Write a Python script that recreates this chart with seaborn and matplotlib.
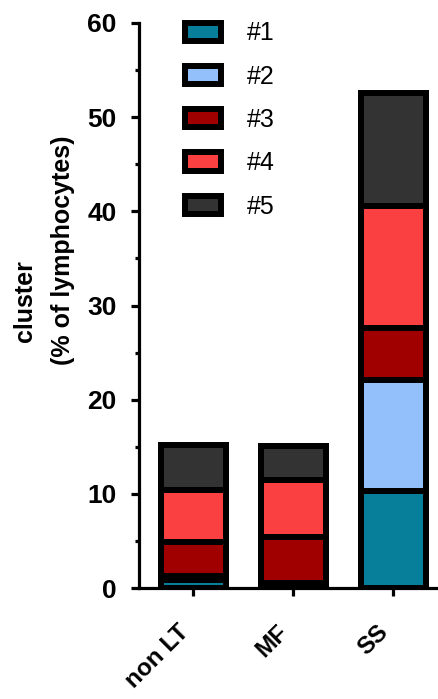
import matplotlib
matplotlib.use("Agg")
import matplotlib.pyplot as plt
from matplotlib.patches import Patch
from matplotlib.ticker import MultipleLocator
from matplotlib.transforms import ScaledTranslation
import numpy as np
import pandas as pd
import seaborn as sns

groups = ["non LT", "MF", "SS"]
cluster_names = ["#1", "#2", "#3", "#4", "#5"]
c1 = [0.9, 0.2, 10.3]
c2 = [0.4, 0.3, 11.8]
c3 = [3.6, 4.9, 5.5]
c4 = [5.5, 6.1, 13.0]
c5 = [4.8, 3.6, 12.0]
colors = ["#077F9A", "#93C0FA", "#A00000", "#FA4040", "#333333"]

sns.set_style("ticks")
plt.rcParams["font.family"] = ["Liberation Sans", "DejaVu Sans"]
plt.rcParams.update({
    "axes.edgecolor": "black",
    "text.color": "black",
    "axes.labelcolor": "black",
    "xtick.color": "black",
    "ytick.color": "black",
})

fig = plt.figure(figsize=(4.38, 6.99), dpi=100)
ax = fig.add_axes([139 / 438, 111 / 699, 299 / 438, 565 / 699])

series = np.array([c1, c2, c3, c4, c5])
cum = np.cumsum(series, axis=0)
edge_lw = 4.3

# stacked bars: draw the tallest cumulative layer first, smaller on top
for i in range(len(cluster_names) - 1, -1, -1):
    df = pd.DataFrame({"group": groups, "value": cum[i]})
    sns.barplot(data=df, x="group", y="value", order=groups, color=colors[i],
                saturation=1, edgecolor="black", linewidth=edge_lw,
                width=0.65, errorbar=None, ax=ax, zorder=3 + (5 - i))

ax.set_xlim(-0.54, 2.45)
ax.set_ylim(0, 60)
ax.yaxis.set_major_locator(MultipleLocator(10))
ax.yaxis.set_minor_locator(MultipleLocator(5))

for side in ["top", "right"]:
    ax.spines[side].set_visible(False)
for side in ["left", "bottom"]:
    ax.spines[side].set_linewidth(2.3)
ax.spines["bottom"].set_zorder(20)

ax.tick_params(axis="both", which="major", length=6, width=2.3, labelsize=19)
ax.tick_params(axis="y", which="minor", length=3, width=2.3)
ax.tick_params(axis="y", pad=10)
for lbl in ax.get_yticklabels():
    lbl.set_fontweight("bold")
ax.set_xticks(range(len(groups)))
ax.set_xticklabels(groups, rotation=45, ha="right", va="center",
                   rotation_mode="anchor", fontsize=17.5, fontweight="bold")
ax.tick_params(axis="x", pad=23)
shift = ScaledTranslation(-8 / 100, 0, fig.dpi_scale_trans)
for lbl in ax.get_xticklabels():
    lbl.set_transform(lbl.get_transform() + shift)

ax.set_xlabel("")
ax.set_ylabel("")
fig.text(25 / 438, 1 - 301 / 699, "cluster", rotation=90, ha="center",
         va="center", fontsize=18, fontweight="bold")
fig.text(63 / 438, 1 - 250 / 699, "(% of lymphocytes)", rotation=90,
         ha="center", va="center", fontsize=18, fontweight="bold")

handles = [Patch(facecolor=colors[i], edgecolor="black", linewidth=edge_lw,
                 label=cluster_names[i]) for i in range(len(cluster_names))]
leg = ax.legend(handles=handles, loc="upper left",
                bbox_to_anchor=(182 / 438, 1.0 - 19 / 699),
                bbox_transform=fig.transFigure, frameon=False, fontsize=18,
                handlelength=1.45, handleheight=0.75, labelspacing=0.77,
                handletextpad=1.05, borderaxespad=0, borderpad=0.1)

fig.savefig("out.png", dpi=100)
